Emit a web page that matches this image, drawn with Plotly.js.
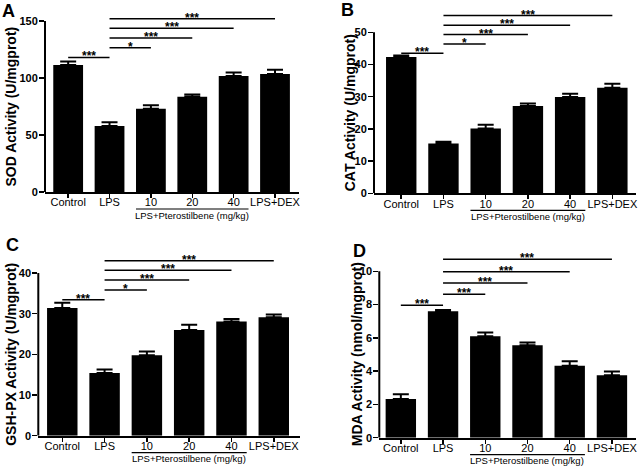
<!DOCTYPE html>
<html><head><meta charset="utf-8">
<script src="https://cdn.plot.ly/plotly-3.0.1.min.js"></script>
<style>html,body{margin:0;padding:0;background:#fff}#chart{width:642px;height:466px}</style>
</head><body><div id="chart"></div>
<script>
// ---- data ----
const categories = ['Control', 'LPS', '10', '20', '40', 'LPS+DEX'];
const sodMean = [111.4, 57.9, 73.0, 83.6, 101.8, 103.5];
const sodSD   = [3.0, 3.2, 3.0, 2.0, 3.0, 3.8];
const catMean = [42.3, 15.5, 20.1, 27.1, 29.9, 32.8];
const catSD   = [0.5, 0.5, 1.2, 0.8, 1.0, 1.2];
const gshMean = [31.4, 15.4, 19.8, 26.0, 28.1, 29.1];
const gshSD   = [1.3, 0.9, 0.9, 1.3, 0.6, 0.7];
const mdaMean = [2.33, 7.6, 6.1, 5.55, 4.32, 3.75];
const mdaSD   = [0.28, 0.07, 0.22, 0.17, 0.27, 0.23];

const comparisons = [[0, 1], [1, 2], [1, 3], [1, 4], [1, 5]];
const sodSigY = [118, 126.6, 135, 143.6, 152];
const catSigY = [43.5, 46.4, 49.3, 52.2, 55.2];
const gshSigY = [33.4, 35.8, 38.3, 40.7, 43.0];
const mdaSigY = [7.96, 8.62, 9.3, 9.98, 10.73];
const sodSigLabel = ['***', '*', '***', '***', '***'];
const catSigLabel = ['***', '*', '***', '***', '***'];
const gshSigLabel = ['***', '*', '***', '***', '***'];
const mdaSigLabel = ['***', '***', '***', '***', '***'];

const sodTicks = [0, 50, 100, 150];
const catTicks = [0, 10, 20, 30, 40, 50];
const gshTicks = [0, 10, 20, 30, 40];
const mdaTicks = [0, 2, 4, 6, 8, 10];

const panelLetters = ['A', 'B', 'C', 'D'];
const yTitles = ['SOD Activity (U/mgprot)', 'CAT Activity (U/mgprot)',
                 'GSH-PX Activity (U/mgprot)', 'MDA Activity (nmol/mgprot)'];
const groupLabel = 'LPS+Pterostilbene (mg/kg)';
const groupFrom = 2, groupTo = 4;

// ---- layout geometry (pixels) ----
const W = 642, H = 466;
const SANS = '"Liberation Sans", Arial, sans-serif';
const BW = 0.72;

const panels = [
  {mean: sodMean, sd: sodSD, sigY: sodSigY, sigL: sodSigLabel, ticks: sodTicks,
   left: 45, right: 299, zero: 192, tickTopPx: 21, xr: [-0.56, 5.58], yTop: 160,
   letter: [8.5, 11], titleX: 10},
  {mean: catMean, sd: catSD, sigY: catSigY, sigL: catSigLabel, ticks: catTicks,
   left: 374, right: 636, zero: 193.3, tickTopPx: 32.3, xr: [-0.645, 5.56], yTop: 57,
   letter: [347, 10.5], titleX: 349.5},
  {mean: gshMean, sd: gshSD, sigY: gshSigY, sigL: gshSigLabel, ticks: gshTicks,
   left: 38.3, right: 300, zero: 435.7, tickTopPx: 273, xr: [-0.567, 5.62], yTop: 45,
   letter: [12.7, 245], titleX: 11.5},
  {mean: mdaMean, sd: mdaSD, sigY: mdaSigY, sigL: mdaSigLabel, ticks: mdaTicks,
   left: 379.3, right: 636, zero: 437.7, tickTopPx: 271.3, xr: [-0.51, 5.57], yTop: 11.3,
   letter: [359.3, 251], titleX: 357.7}
];

const data = [];
const layout = {
  width: W, height: H,
  margin: {l: 0, r: 0, t: 0, b: 0},
  paper_bgcolor: '#fff', plot_bgcolor: '#fff',
  showlegend: false,
  bargap: 1 - BW,
  font: {family: SANS, color: '#000'},
  shapes: [], annotations: []
};

panels.forEach((p, i) => {
  const n = i === 0 ? '' : String(i + 1);
  const xa = 'x' + n, ya = 'y' + n;
  const tickMax = p.ticks[p.ticks.length - 1];
  const ppu = (p.zero - p.tickTopPx) / tickMax;
  const topPx = p.zero - p.yTop * ppu;

  data.push({
    type: 'bar', x: categories, y: p.mean, xaxis: xa, yaxis: ya,
    marker: {color: '#000', line: {width: 0}},
    error_y: {type: 'data', symmetric: false, array: p.sd,
              arrayminus: p.sd.map(() => 0), width: 8, thickness: 2, color: '#000'},
    hoverinfo: 'skip'
  });

  layout['xaxis' + n] = {
    type: 'category', domain: [p.left / W, p.right / W], anchor: ya,
    range: p.xr, showline: true, linewidth: 2, linecolor: '#000',
    ticks: 'outside', ticklen: 4, tickwidth: 1.5, tickcolor: '#000',
    ticklabelstandoff: -5,
    tickfont: {family: SANS, size: 11, color: '#000'},
    showgrid: false, zeroline: false, fixedrange: true
  };
  layout['yaxis' + n] = {
    domain: [1 - p.zero / H, 1 - topPx / H], anchor: xa,
    range: [0, p.yTop], tickvals: p.ticks, ticktext: p.ticks.map(String),
    showline: false, ticks: 'outside', ticklen: 5, tickwidth: 1.5, tickcolor: '#000',
    ticklabelstandoff: -1,
    tickfont: {family: SANS, size: 11, color: '#000', weight: 'bold'},
    showgrid: false, zeroline: false, fixedrange: true
  };

  // y axis line limited to tick range
  layout.shapes.push({type: 'line', xref: xa + ' domain', yref: ya,
    x0: 0, x1: 0, y0: 0, y1: tickMax, line: {color: '#000', width: 2}});

  // significance brackets
  comparisons.forEach((c, k) => {
    layout.shapes.push({type: 'line', xref: xa, yref: ya,
      x0: c[0], x1: c[1], y0: p.sigY[k], y1: p.sigY[k],
      line: {color: '#000', width: 1.5}});
    layout.annotations.push({xref: xa, yref: ya, x: (c[0] + c[1]) / 2, y: p.sigY[k],
      text: p.sigL[k], showarrow: false, yanchor: 'bottom', yshift: -8,
      font: {family: SANS, size: 12, color: '#000', weight: 'bold'}});
  });

  // group bracket under tick labels
  const gy = 1 - (p.zero + 17) / H;
  layout.shapes.push({type: 'line', xref: xa, yref: 'paper',
    x0: groupFrom - BW / 2, x1: groupTo + BW / 2, y0: gy, y1: gy,
    line: {color: '#000', width: 1.2}});
  layout.annotations.push({xref: xa, yref: 'paper', x: (groupFrom + groupTo) / 2,
    y: 1 - (p.zero + 23) / H, yanchor: 'middle', text: groupLabel, showarrow: false,
    font: {family: SANS, size: 9.5, color: '#000'}});

  // y axis title
  layout.annotations.push({xref: 'paper', yref: ya, x: p.titleX / W, y: tickMax / 2,
    xanchor: 'center', yanchor: 'middle', textangle: -90, text: yTitles[i], showarrow: false,
    font: {family: SANS, size: 14, color: '#000', weight: 'bold'}});

  // panel letter
  layout.annotations.push({xref: 'paper', yref: 'paper', x: p.letter[0] / W, y: 1 - p.letter[1] / H,
    xanchor: 'center', yanchor: 'middle', text: panelLetters[i], showarrow: false,
    font: {family: SANS, size: 18, color: '#000', weight: 'bold'}});
});

Plotly.newPlot('chart', data, layout, {displayModeBar: false, staticPlot: true});
</script>
</body></html>
